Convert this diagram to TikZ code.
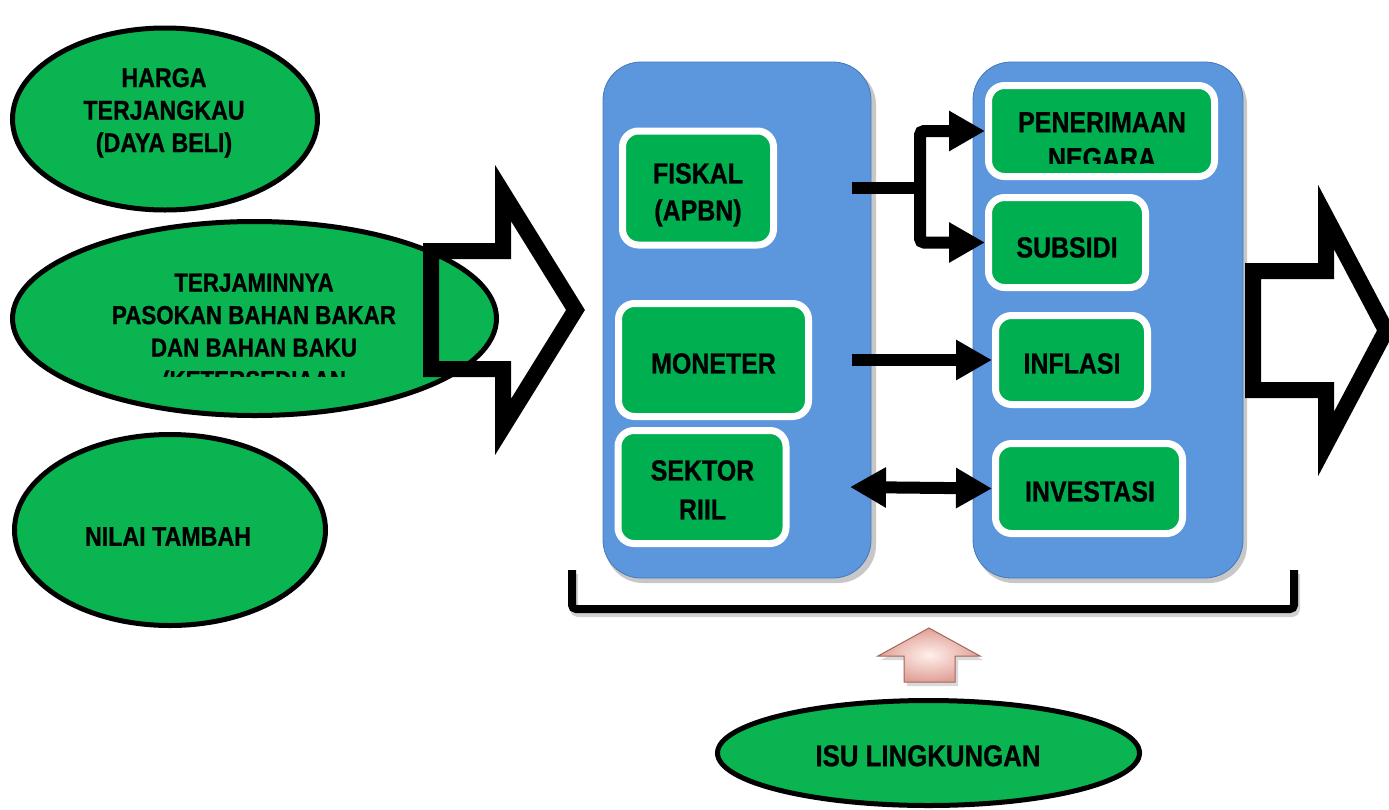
\documentclass[tikz,border=0pt]{standalone}
\usepackage{fontspec}
\setmainfont{Liberation Sans}[FakeStretch=0.86, BoldFeatures={FakeBold=0.8}]
\usetikzlibrary{arrows.meta,shapes.geometric,calc}
\definecolor{panelblue}{RGB}{92,151,221}
\definecolor{paneledge}{RGB}{70,120,185}
\definecolor{boxgreen}{RGB}{0,176,80}
\definecolor{ovalgreen}{RGB}{10,180,80}
\definecolor{pinkhi}{RGB}{255,240,236}
\definecolor{pinklo}{RGB}{224,160,150}
\definecolor{pinkedge}{RGB}{165,100,90}

\begin{document}
\begin{tikzpicture}[x=1pt,y=-1pt,
  oval/.style={ellipse, draw=black, line width=5pt, fill=ovalgreen, inner sep=0pt},
  panel/.style={rounded corners=38pt, fill=panelblue, draw=paneledge, line width=0.8pt},
  panelshadow/.style={rounded corners=38pt, fill=black, opacity=0.22},
  gbox/.style={rectangle, rounded corners=16pt, draw=white, line width=7pt, fill=boxgreen, inner sep=0pt},
  lbl/.style={align=center, inner sep=0pt, anchor=north, font=\bfseries\fontsize{29}{37}\selectfont},
  olbl/.style={lbl, font=\bfseries\fontsize{27}{32.5}\selectfont},
  conn/.style={line width=12pt, draw=black, rounded corners=4pt},
  onehead/.style={-{Triangle[length=36pt,width=38pt]}},
  twoheads/.style={{Triangle[length=36pt,width=38pt]}-{Triangle[length=36pt,width=38pt]}},
  hollowarrow/.style={draw=black, line width=16pt, miter limit=10},
]
\useasboundingbox (0,0) rectangle (1389,809);

% ---- goals on the left ----
\node[oval, minimum width=305pt, minimum height=182pt] (harga) at (165,119) {};
\node[olbl] (hargaT) at (164,68) {HARGA\\TERJANGKAU\\(DAYA BELI)};

\node[oval, minimum width=484pt, minimum height=194pt] (pasok) at (254.5,318.5) {};
\begin{scope}
  \clip (0,250) rectangle (520,376);
  \node[olbl, font=\bfseries\fontsize{26}{32.5}\selectfont] (pasokT) at (254,273.5)
    {TERJAMINNYA\\PASOKAN BAHAN BAKAR\\DAN BAHAN BAKU\\(KETERSEDIAAN};
\end{scope}

\node[oval, minimum width=311pt, minimum height=191pt] (nilai) at (170,530) {};
\node[olbl] (nilaiT) at (168,527) {NILAI TAMBAH};

% ---- hollow input arrow ----
\draw[hollowarrow] (431,251) -- (503,251) -- (503,193) -- (575.5,310)
  -- (503,427) -- (503,369) -- (431,369) -- cycle;

% ---- policy panels ----
\fill[panelshadow] (605,67) rectangle (876,583);
\fill[panelshadow] (976,67) rectangle (1247,583);
\path[panel] (603,62) rectangle (871,578);
\path[panel] (973,62) rectangle (1243,578);

% ---- instruments ----
\node[gbox, minimum width=151pt, minimum height=114pt] (fiskal) at (698,188) {};
\node[lbl] (fiskalT) at (698,163) {FISKAL\\(APBN)};
\node[gbox, minimum width=190pt, minimum height=113pt] (moneter) at (713.5,360) {};
\node[lbl] (moneterT) at (713.5,353) {MONETER};
\node[gbox, minimum width=168pt, minimum height=113pt] (sektor) at (702,487) {};
\node[lbl, font=\bfseries\fontsize{29}{39}\selectfont] (sektorT) at (702.5,460) {SEKTOR\\RIIL};

% ---- targets ----
\node[gbox, minimum width=226pt, minimum height=91pt] (pen) at (1101.5,131) {};
\begin{scope}
  \clip (985,100) rectangle (1220,163);
  \node[lbl, font=\bfseries\fontsize{29}{36}\selectfont] (penT) at (1102,112) {PENERIMAAN\\NEGARA};
\end{scope}
\node[gbox, minimum width=157pt, minimum height=90pt] (sub) at (1067,242.5) {};
\node[lbl] (subT) at (1067,237) {SUBSIDI};
\node[gbox, minimum width=152pt, minimum height=89pt] (inf) at (1071.5,360) {};
\node[lbl] (infT) at (1072,353) {INFLASI};
\node[gbox, minimum width=187pt, minimum height=90pt] (inv) at (1089,488.5) {};
\node[lbl] (invT) at (1090,481) {INVESTASI};

% ---- connectors between instruments and targets ----
\coordinate (fk) at (852,188);
\coordinate (jn) at (920,188);
\coordinate (mk) at (852,360);
\coordinate (sk) at (850,487);
\draw[conn] (fk) -- (jn);
\draw[conn, onehead] (jn) |- (pen.west);
\draw[conn, onehead] (jn) |- (sub.west);
\draw[conn, onehead] (mk) -- (inf.west);
\draw[conn, twoheads] (sk) -- (inv.west);

% ---- hollow output arrow ----
\draw[hollowarrow] (1253,271) -- (1326,271) -- (1326,217) -- (1386,330.5)
  -- (1326,444) -- (1326,390) -- (1253,390) -- cycle;

% ---- bracket under both panels ----
\draw[line width=8pt, rounded corners=4pt, black, opacity=0.18]
  (574,574) -- (574,613) -- (1296,613) -- (1296,574);
\draw[line width=8pt, rounded corners=4pt] (572,570) -- (572,609) -- (1294,609) -- (1294,570);

% ---- environmental issue ----
\fill[black, opacity=0.15] (881,660) -- (932,632) -- (983,660) -- (958,660)
  -- (958,686) -- (907,686) -- (907,660) -- cycle;
\path[inner color=pinkhi, outer color=pinklo, draw=pinkedge, line width=1pt]
  (878,656) -- (929,628) -- (980,656) -- (955,656) -- (955,682) -- (904,682) -- (904,656) -- cycle;
\node[oval, minimum width=422pt, minimum height=105pt] (isu) at (928.5,753) {};
\node[lbl, font=\bfseries\fontsize{30}{36}\selectfont] (isuT) at (928,745) {ISU LINGKUNGAN};
\end{tikzpicture}
\end{document}
